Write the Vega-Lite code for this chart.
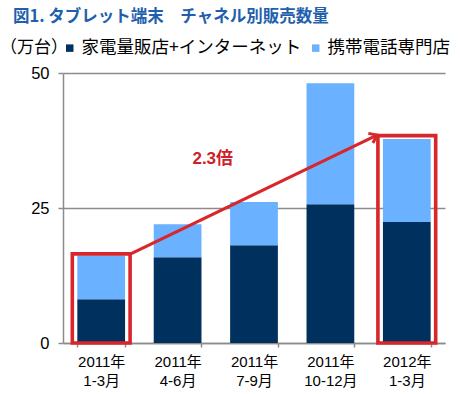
{
  "$schema": "https://vega.github.io/schema/vega-lite/v6.json",
  "width": 382,
  "height": 270,
  "autosize": "none",
  "padding": {"left": 63, "top": 73, "right": 15, "bottom": 51},
  "background": "white",
  "title": {
    "text": "図1. タブレット端末　チャネル別販売数量",
    "font": "'Noto Sans CJK JP', sans-serif",
    "fontSize": 16.5,
    "fontWeight": "bold",
    "color": "#1F5FAD",
    "anchor": "start",
    "frame": "group",
    "dx": -50,
    "offset": 0,
    "dy": -14
  },
  "datasets": {
    "sales": [
      {"period": "2011年\n1-3月", "channel": "家電量販店+インターネット", "units": 8.1},
      {"period": "2011年\n1-3月", "channel": "携帯電話専門店", "units": 8.1},
      {"period": "2011年\n4-6月", "channel": "家電量販店+インターネット", "units": 15.9},
      {"period": "2011年\n4-6月", "channel": "携帯電話専門店", "units": 6.1},
      {"period": "2011年\n7-9月", "channel": "家電量販店+インターネット", "units": 18.1},
      {"period": "2011年\n7-9月", "channel": "携帯電話専門店", "units": 8.0},
      {"period": "2011年\n10-12月", "channel": "家電量販店+インターネット", "units": 25.7},
      {"period": "2011年\n10-12月", "channel": "携帯電話専門店", "units": 22.4},
      {"period": "2012年\n1-3月", "channel": "家電量販店+インターネット", "units": 22.4},
      {"period": "2012年\n1-3月", "channel": "携帯電話専門店", "units": 15.4}
    ],
    "boxes": [
      {"period": "2011年\n1-3月", "top": 16.5},
      {"period": "2012年\n1-3月", "top": 38.4}
    ],
    "arrow": [
      {"pos": 0.886, "v": 16.5},
      {"pos": 4.11, "v": 38.5}
    ],
    "arrowHead": [
      {"pos": 4.11, "v": 38.5}
    ],
    "note": [
      {"pos": 1.96, "v": 34.1, "label": "2.3倍"}
    ]
  },
  "layer": [
    {
      "layer": [
        {
          "data": {"name": "sales"},
          "mark": {"type": "bar", "width": {"band": 1}},
          "encoding": {
            "x": {
              "field": "period",
              "type": "nominal",
              "sort": null,
              "scale": {
                "domain": ["2011年\n1-3月", "2011年\n4-6月", "2011年\n7-9月", "2011年\n10-12月", "2012年\n1-3月"],
                "paddingInner": 0.375,
                "paddingOuter": 0.1875
              },
              "axis": {
                "title": null,
                "labelAngle": 0,
                "labelExpr": "datum.value ? split(datum.value, '\\n') : ''",
                "labelFont": "'Liberation Sans', 'Noto Sans CJK JP', sans-serif",
                "labelFontSize": 15,
                "labelLineHeight": 19,
                "labelColor": "#000000",
                "labelPadding": 7,
                "tickBand": "extent",
                "tickSize": 4,
                "tickColor": "#8c8c8c",
                "tickWidth": 1.5,
                "domainColor": "#8c8c8c",
                "domainWidth": 1.5
              }
            },
            "y": {
              "field": "units",
              "type": "quantitative",
              "stack": "zero",
              "scale": {"domain": [0, 50], "nice": false},
              "axis": {
                "title": null,
                "values": [0, 25, 50],
                "grid": true,
                "gridColor": "#8c8c8c",
                "gridWidth": 1.5,
                "domainColor": "#8c8c8c",
                "domainWidth": 1.5,
                "tickColor": "#8c8c8c",
                "tickWidth": 1.5,
                "tickSize": 5,
                "labelFont": "'Liberation Sans', sans-serif",
                "labelFontSize": 16.5,
                "labelColor": "#000000",
                "labelPadding": 9
              }
            },
            "color": {
              "field": "channel",
              "type": "nominal",
              "scale": {
                "domain": ["家電量販店+インターネット", "携帯電話専門店"],
                "range": ["#00305E", "#6AB1FF"]
              },
              "legend": {
                "orient": "none",
                "legendX": -63,
                "legendY": -34,
                "direction": "horizontal",
                "title": "（万台）",
                "titleOrient": "left",
                "titleFont": "'Noto Sans CJK JP', sans-serif",
                "titleFontSize": 17,
                "titleFontWeight": "normal",
                "titleColor": "#000000",
                "titlePadding": -7,
                "labelFont": "'Noto Sans CJK JP', sans-serif",
                "labelFontSize": 17.5,
                "labelColor": "#000000",
                "labelLimit": 400,
                "labelOffset": 3,
                "symbolType": "square",
                "symbolSize": 56,
                "symbolStrokeWidth": 0,
                "columnPadding": 5
              }
            },
            "order": {"field": "channel", "sort": "ascending"}
          }
        },
        {
          "data": {"name": "boxes"},
          "mark": {"type": "bar", "width": {"band": 1.21}, "fill": "transparent", "stroke": "#D9262B", "strokeWidth": 3.6},
          "encoding": {
            "x": {"field": "period", "type": "nominal", "sort": null},
            "y": {"field": "top", "type": "quantitative", "stack": null}
          }
        }
      ]
    },
    {
      "layer": [
        {
          "data": {"name": "arrow"},
          "mark": {"type": "line", "color": "#D9262B", "strokeWidth": 3.2},
          "encoding": {
            "x": {"field": "pos", "type": "quantitative", "scale": {"domain": [0, 5], "nice": false, "zero": false}, "axis": null},
            "y": {"field": "v", "type": "quantitative"}
          }
        },
        {
          "data": {"name": "arrowHead"},
          "mark": {"type": "point", "shape": "M-1,-0.75L0,0L-1,0.75", "filled": false, "stroke": "#D9262B", "strokeWidth": 3, "size": 200, "angle": 334.5, "opacity": 1},
          "encoding": {
            "x": {"field": "pos", "type": "quantitative", "scale": {"domain": [0, 5], "nice": false, "zero": false}, "axis": null},
            "y": {"field": "v", "type": "quantitative"}
          }
        },
        {
          "data": {"name": "note"},
          "mark": {"type": "text", "font": "'Liberation Sans', 'Noto Sans CJK JP', sans-serif", "fontSize": 17, "fontWeight": "bold", "color": "#D0202A", "baseline": "middle", "align": "center"},
          "encoding": {
            "x": {"field": "pos", "type": "quantitative", "scale": {"domain": [0, 5], "nice": false, "zero": false}, "axis": null},
            "y": {"field": "v", "type": "quantitative"},
            "text": {"field": "label"}
          }
        }
      ]
    }
  ],
  "resolve": {"scale": {"x": "independent"}, "axis": {"x": "independent"}},
  "config": {
    "view": {"stroke": null}
  }
}
